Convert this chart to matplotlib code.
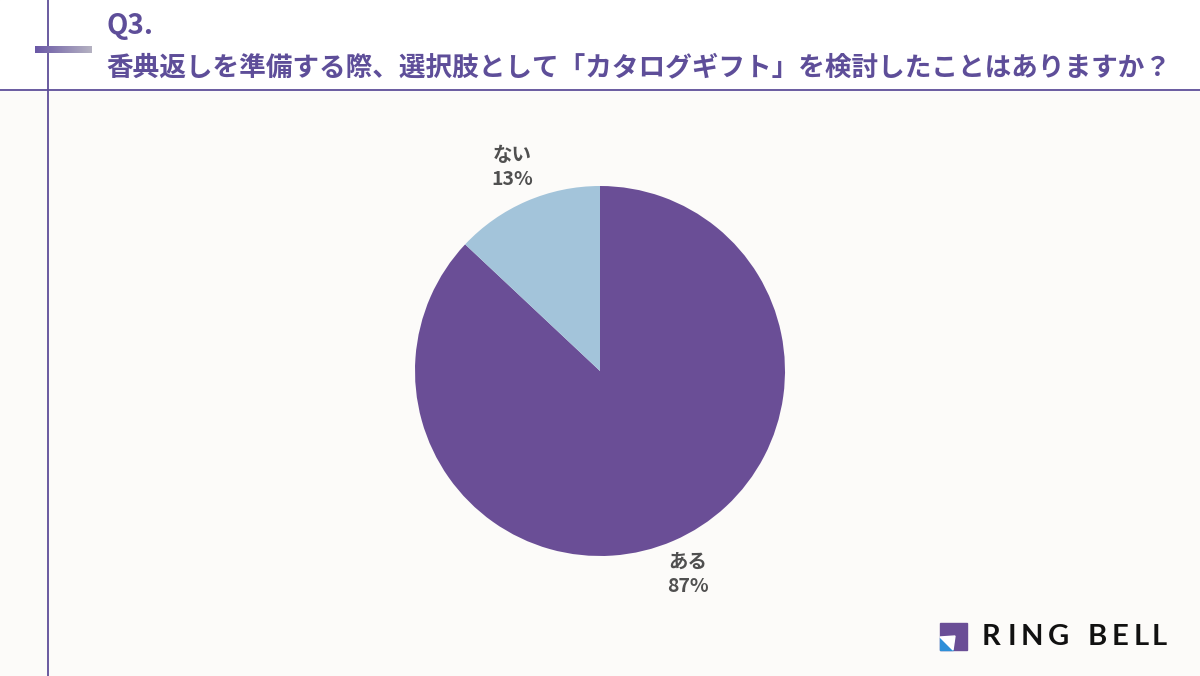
import matplotlib.pyplot as plt
import numpy as np
from matplotlib.patches import Rectangle, Polygon
from matplotlib.colors import LinearSegmentedColormap

plt.rcParams['font.family'] = ['Noto Sans CJK JP', 'DejaVu Sans']

# data
labels = ["ある", "ない"]
values = [87, 13]
colors = ["#6A4E96", "#A3C4DA"]

title_q = "Q3."
title = "香典返しを準備する際、選択肢として「カタログギフト」を検討したことはありますか？"

W, H = 1200, 676
fig = plt.figure(figsize=(W / 100, H / 100), dpi=100)
fig.patch.set_facecolor("#FCFBF9")

# overlay axes in pixel coordinates
bg = fig.add_axes([0, 0, 1, 1])
bg.axis("off")
bg.add_patch(Rectangle((0, 0), W, 90, color="white", zorder=0))

line_col = "#5E4E99"
bg.plot([0, W], [90, 90], color=line_col, lw=1.3)
bg.plot([48, 48], [0, H], color=line_col, lw=1.3)

# gradient bar
grad = np.linspace(0, 1, 100).reshape(1, -1)
cmap = LinearSegmentedColormap.from_list("g", ["#6A58A6", "#B5B2C2"])
bg.imshow(grad, extent=[35, 92, 53, 46], cmap=cmap, aspect="auto", zorder=2)
bg.set_xlim(0, W)
bg.set_ylim(H, 0)

bg.text(106, 26, title_q, color=line_col, fontsize=20, fontweight="bold",
        va="center", ha="left")
bg.text(106, 68, title, color=line_col, fontsize=19.2, fontweight="bold",
        va="center", ha="left")

# logo
bg.add_patch(Rectangle((940, 623), 27, 27, color="#6A4E96", zorder=3))
bg.add_patch(Polygon([[940, 637], [940, 650], [953, 650]], closed=True,
                     color="#2E8FD8", zorder=4))
bg.add_patch(Polygon([[940, 637], [953, 650], [955, 636]], closed=True,
                     color="white", zorder=4))
for ch, x in zip("RINGBELL", [982, 1008, 1021, 1048, 1088, 1112, 1134, 1152]):
    bg.text(x, 637, ch, color="#111111", fontsize=21, family="Lato",
            fontweight="bold", va="center", ha="left")

# pie
cx, cy, r = 600, 371, 185
ax = fig.add_axes([(cx - r) / W, (H - cy - r) / H, 2 * r / W, 2 * r / H])
wedges, _ = ax.pie(values, colors=colors, startangle=90, counterclock=False,
                   radius=1.0)
ax.set_xlim(-1, 1)
ax.set_ylim(-1, 1)
ax.set_aspect("equal")

# labels
for w, lab, v in zip(wedges, labels, values):
    ang = np.deg2rad((w.theta1 + w.theta2) / 2)
    x, y = 1.2 * np.cos(ang), 1.2 * np.sin(ang)
    ax.text(x, y, f"{lab}\n{v}%", ha="center", va="center", fontsize=14,
            fontweight="bold", color="#505050", linespacing=1.35)

fig.savefig("out.png", dpi=100, facecolor=fig.get_facecolor())
